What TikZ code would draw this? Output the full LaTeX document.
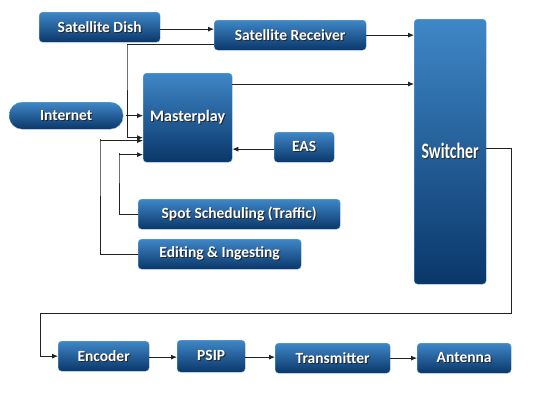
\documentclass[tikz,border=0pt]{standalone}
\usepackage{fontspec}
\setmainfont{Carlito}
\usetikzlibrary{arrows.meta}
\definecolor{boxtop}{HTML}{3F87C7}
\definecolor{boxbot}{HTML}{0A376A}
\definecolor{lineclr}{HTML}{222222}
\newcommand{\shtxt}[1]{\rlap{\hspace{1pt}\raisebox{-1pt}{\color{black!85}#1}}#1}
\tikzset{
  boxnode/.style={rectangle, rounded corners=3.5pt, top color=boxtop, bottom color=boxbot,
    draw=boxtop!70!white, line width=0.3pt, text=white, font=\bfseries\fontsize{15.5}{17}\selectfont,
    inner sep=0pt, anchor=north west},
  conn/.style={draw=lineclr, line width=0.8pt, -{Latex[length=6pt,width=5pt]}}
}
\begin{document}
\begin{tikzpicture}[x=1pt,y=-1pt]
\useasboundingbox[fill=white] (0,0) rectangle (541,400);
% boxes
\node[boxnode, minimum width=121pt, minimum height=30pt] (dish) at (39,12) {\shtxt{Satellite Dish}};
\node[boxnode, minimum width=152pt, minimum height=30pt] (recv) at (214,20) {\shtxt{Satellite Receiver}};
\node[boxnode, minimum width=72pt, minimum height=265pt, font=\bfseries\fontsize{22}{24}\selectfont] (sw) at (414,19) {\scalebox{0.72}[1]{\shtxt{Switcher}}};
\node[boxnode, minimum width=89pt, minimum height=89pt, font=\bfseries\fontsize{16}{18}\selectfont] (mp) at (143,73) {\shtxt{Masterplay}};
\node[boxnode, rounded corners=13pt, minimum width=114pt, minimum height=27pt] (net) at (9,102) {\shtxt{Internet}};
\node[boxnode, minimum width=60pt, minimum height=30pt] (eas) at (274,132) {\shtxt{EAS}};
\node[boxnode, minimum width=202pt, minimum height=30pt] (spot) at (138,199) {\shtxt{Spot Scheduling (Traffic)}};
\node[boxnode, minimum width=163pt, minimum height=30pt] (edit) at (138,239) {\shtxt{Editing \& Ingesting}};
\node[boxnode, minimum width=91pt, minimum height=30pt] (enc) at (58,341) {\shtxt{Encoder}};
\node[boxnode, minimum width=68pt, minimum height=32pt] (psip) at (177,340) {\shtxt{PSIP}};
\node[boxnode, minimum width=115pt, minimum height=30pt] (tx) at (275,343) {\shtxt{Transmitter}};
\node[boxnode, minimum width=94pt, minimum height=30pt] (ant) at (417,343) {\shtxt{Antenna}};
% helper coordinates
\coordinate (c1) at (127,44);
\coordinate (c2) at (100,139);
\coordinate (c3) at (119,153);
\coordinate (c4) at (511,313);
\coordinate (c5) at (40,313);
% connectors
\draw[conn] ([yshift=-2pt]dish.east) -- ([yshift=-2pt]dish.east -| recv.west);
\draw[conn] (recv.east) -- (recv.east -| sw.west);
\draw[conn] ([yshift=-9pt]recv.west) -| (c1) |- ([yshift=-20pt]mp.west);
\draw[conn] ([yshift=-11pt]mp.north east) -- ([yshift=-11pt]mp.north east -| sw.west);
\draw[conn] ([xshift=3pt]net.east) -- (net.east -| mp.west);
\draw[conn] (edit.west) -| (c2) |- ([yshift=-23pt]mp.west);
\draw[conn] (spot.west) -| (c3) |- ([yshift=-37pt]mp.west);
\draw[conn] ([yshift=-2pt]eas.west) -- ([yshift=-2pt]eas.west -| mp.east);
\draw[conn] ([yshift=3pt]sw.east) -| (c4) -- (c5) |- (enc.west);
\draw[conn] ([yshift=-1pt]enc.east) -- ([yshift=-1pt]enc.east -| psip.west);
\draw[conn] ([yshift=-1pt]psip.east) -- ([yshift=-1pt]psip.east -| tx.west);
\draw[conn] (tx.east) -- (tx.east -| ant.west);
\end{tikzpicture}
\end{document}
